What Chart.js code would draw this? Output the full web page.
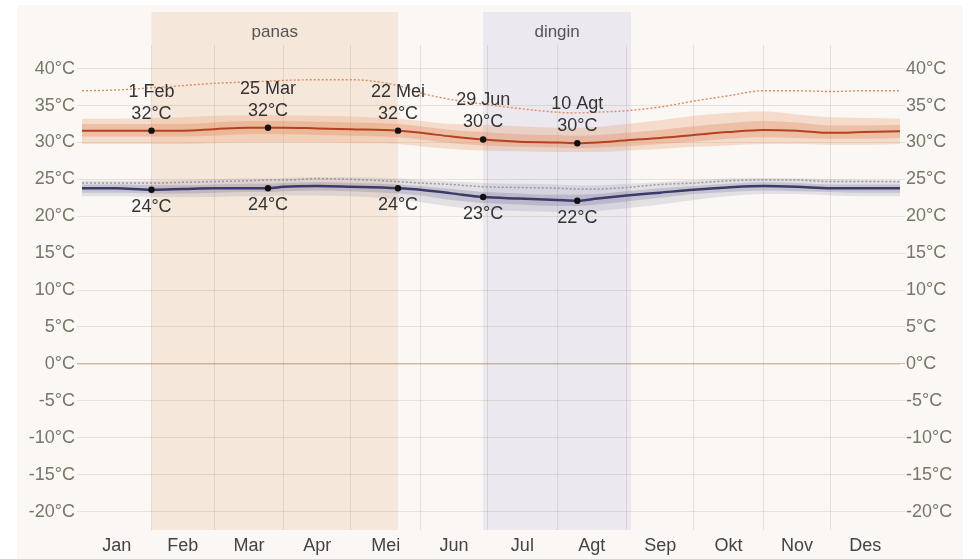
<!DOCTYPE html>
<html><head><meta charset="utf-8">
<script src="https://cdn.jsdelivr.net/npm/chart.js@4/dist/chart.umd.min.js"></script>
<style>html,body{margin:0;padding:0;background:#fff;}</style>
</head><body>
<canvas id="c" width="980" height="559"></canvas>
<script>
// ---- data (day of year, 0 = 1 Jan) ----
const days =        [0,   15,  31,  45,  59,  74,  83,  90,  105, 120, 141, 151, 165, 179, 195, 212, 221, 230, 243, 258, 273, 288, 304, 319, 334, 349, 365];
const highAvg =     [31.6,31.6,31.6,31.6,31.8,32.0,32.0,32.0,31.9,31.8,31.6,31.3,30.8,30.4,30.1,30.0,29.9,30.0,30.3,30.6,31.0,31.4,31.7,31.6,31.3,31.4,31.5];
const highP90 =     [33.2,33.2,33.3,33.4,33.6,33.7,33.7,33.7,33.6,33.5,33.2,32.9,32.5,32.4,32.2,32.0,32.0,32.1,32.5,33.0,33.6,34.0,34.2,33.8,33.4,33.3,33.2];
const highP75 =     [32.5,32.5,32.5,32.5,32.7,32.9,32.9,32.9,32.8,32.7,32.5,32.2,31.7,31.4,31.1,31.0,30.9,31.0,31.3,31.7,32.2,32.6,32.9,32.7,32.3,32.3,32.4];
const highP25 =     [30.8,30.8,30.8,30.8,30.9,31.1,31.1,31.1,31.0,30.9,30.7,30.4,29.9,29.6,29.4,29.3,29.2,29.3,29.5,29.8,30.1,30.5,30.7,30.6,30.5,30.5,30.6];
const highP10 =     [29.8,29.8,29.8,29.8,29.9,30.0,30.0,30.0,30.0,29.9,29.8,29.5,29.1,28.9,28.8,28.7,28.7,28.7,28.9,29.1,29.4,29.6,29.8,29.8,29.7,29.7,29.8];
const highMaxDot =  [37.0,37.1,37.4,37.7,38.0,38.2,38.3,38.4,38.5,38.5,37.7,36.7,35.8,35.2,34.6,34.1,34.0,34.1,34.3,34.8,35.6,36.3,37.0,37.0,36.9,37.0,37.0];
const lowAvg =      [23.8,23.8,23.6,23.7,23.8,23.8,23.8,24.0,24.1,24.0,23.8,23.6,23.1,22.6,22.4,22.2,22.1,22.4,22.8,23.2,23.6,23.9,24.1,24.0,23.8,23.8,23.8];
const lowP90 =      [24.8,24.8,24.8,24.9,25.0,25.1,25.1,25.2,25.3,25.3,25.1,24.9,24.7,24.5,24.4,24.3,24.2,24.2,24.4,24.6,24.9,25.1,25.2,25.1,25.0,24.9,24.8];
const lowP75 =      [24.3,24.3,24.2,24.2,24.3,24.4,24.4,24.5,24.6,24.5,24.3,24.1,23.7,23.3,23.1,22.9,22.9,23.0,23.4,23.8,24.1,24.4,24.6,24.5,24.3,24.3,24.3];
const lowP25 =      [23.2,23.2,23.1,23.1,23.2,23.3,23.3,23.4,23.5,23.4,23.1,22.8,22.2,21.8,21.6,21.4,21.4,21.6,22.0,22.5,23.0,23.3,23.5,23.4,23.3,23.2,23.2];
const lowP10 =      [22.7,22.7,22.6,22.6,22.6,22.7,22.7,22.8,22.8,22.7,22.3,21.9,21.3,20.9,20.7,20.6,20.6,20.7,21.1,21.6,22.2,22.7,23.0,23.0,22.8,22.7,22.7];
const lowTopDot =   [24.5,24.5,24.5,24.6,24.7,24.8,24.9,24.9,25.1,25.0,24.7,24.5,24.3,24.0,23.9,23.8,23.7,23.7,23.9,24.3,24.5,24.8,24.9,24.9,24.7,24.7,24.7];

const annDays =  [31, 83, 141, 179, 221];
const annDates = ['1 Feb', '25 Mar', '22 Mei', '29 Jun', '10 Agt'];

const monthNames  = ['Jan','Feb','Mar','Apr','Mei','Jun','Jul','Agt','Sep','Okt','Nov','Des'];
const monthStarts = [0,31,59,90,120,151,181,212,243,273,304,334,365];
const yTickValues = [-20,-15,-10,-5,0,5,10,15,20,25,30,35,40];

const seasonNames = ['panas', 'dingin'];
const seasonStart = [31, 179];
const seasonEnd   = [141, 245];

// ---- helpers ----
const pts = arr => days.map((d, i) => ({x: d, y: arr[i]}));
const atDay = (arr, d) => arr[days.indexOf(d)];
const FONT = '"Liberation Sans", Arial, sans-serif';

const seasonColors = ['#f6e7db', '#ebe8ef'];

const bgPlugin = {
  id: 'bg',
  beforeDraw(chart) {
    const {ctx, chartArea} = chart;
    const x = chart.scales.x;
    ctx.save();
    ctx.fillStyle = '#ffffff';
    ctx.fillRect(0, 0, chart.width, chart.height);
    ctx.fillStyle = '#faf7f4';
    ctx.fillRect(17, 5, 946, 554);
    seasonNames.forEach((name, i) => {
      const x0 = x.getPixelForValue(seasonStart[i]);
      const x1 = x.getPixelForValue(seasonEnd[i]);
      ctx.fillStyle = seasonColors[i];
      ctx.fillRect(x0, 12, x1 - x0, chartArea.bottom - 12);
      ctx.fillStyle = '#555';
      ctx.font = '17px ' + FONT;
      ctx.textAlign = 'center';
      ctx.textBaseline = 'middle';
      ctx.fillText(name, (x0 + x1) / 2, 32);
    });
    ctx.restore();
  }
};

const annPlugin = {
  id: 'ann',
  afterDatasetsDraw(chart) {
    const {ctx} = chart;
    const x = chart.scales.x, y = chart.scales.y;
    ctx.save();
    ctx.fillStyle = '#333';
    ctx.font = '18px ' + FONT;
    ctx.textAlign = 'center';
    ctx.textBaseline = 'middle';
    annDays.forEach((d, i) => {
      const px = x.getPixelForValue(d);
      const hv = atDay(highAvg, d);
      const hy = y.getPixelForValue(hv);
      ctx.fillText(Math.round(hv) + '°C', px, hy - 17);
      ctx.fillText(annDates[i], px, hy - 39);
      const lv = atDay(lowAvg, d);
      const ly = y.getPixelForValue(lv);
      ctx.fillText(Math.round(lv) + '°C', px, ly + 17);
    });
    ctx.restore();
  }
};

const band = (arr, color, fill) => ({
  data: pts(arr), borderWidth: 0, pointRadius: 0, borderColor: 'transparent',
  backgroundColor: color, fill: fill, tension: 0.4, cubicInterpolationMode: 'monotone'
});

const gridCol = 'rgba(140,115,80,0.17)';
const zeroCol = 'rgba(160,130,90,0.5)';

new Chart(document.getElementById('c'), {
  type: 'line',
  data: {
    datasets: [
      // dots
      {data: annDays.map(d => ({x: d, y: atDay(highAvg, d)})), showLine: false, pointRadius: 3.2,
        pointBackgroundColor: '#111', pointBorderWidth: 0, order: 0},
      {data: annDays.map(d => ({x: d, y: atDay(lowAvg, d)})), showLine: false, pointRadius: 3.2,
        pointBackgroundColor: '#111', pointBorderWidth: 0, order: 0},
      // lines
      {data: pts(highAvg), borderColor: '#b5411f', borderWidth: 2, pointRadius: 0, fill: false, tension: 0.4, cubicInterpolationMode: 'monotone', order: 1},
      {data: pts(lowAvg), borderColor: '#3b3b6b', borderWidth: 2.5, pointRadius: 0, fill: false, tension: 0.4, cubicInterpolationMode: 'monotone', order: 1},
      {data: pts(highMaxDot), borderColor: '#e28a5c', borderWidth: 1.4, borderDash: [2, 2], pointRadius: 0, fill: false, tension: 0.4, cubicInterpolationMode: 'monotone', order: 1},
      {data: pts(lowTopDot), borderColor: '#9a98a6', borderWidth: 1.5, borderDash: [2, 2], pointRadius: 0, fill: false, tension: 0.4, cubicInterpolationMode: 'monotone', order: 1},
      // high bands
      Object.assign(band(highP90, 'transparent', false), {order: 5}),
      Object.assign(band(highP10, 'rgba(232,155,105,0.30)', '-1'), {order: 5}),
      Object.assign(band(highP75, 'transparent', false), {order: 4}),
      Object.assign(band(highP25, 'rgba(225,135,90,0.32)', '-1'), {order: 4}),
      // low bands
      Object.assign(band(lowP90, 'transparent', false), {order: 5}),
      Object.assign(band(lowP10, 'rgba(110,110,145,0.17)', '-1'), {order: 5}),
      Object.assign(band(lowP75, 'transparent', false), {order: 4}),
      Object.assign(band(lowP25, 'rgba(85,85,130,0.22)', '-1'), {order: 4})
    ]
  },
  options: {
    responsive: false,
    animation: false,
    devicePixelRatio: 1,
    layout: {padding: {top: 45, left: 0, right: 0, bottom: 0}},
    plugins: {legend: {display: false}, tooltip: {enabled: false}},
    scales: {
      x: {
        type: 'linear', min: 0, max: 365, position: 'bottom',
        grid: {display: false}, border: {display: false},
        afterBuildTicks: s => { s.ticks = monthNames.map((m, i) => ({value: (monthStarts[i] + monthStarts[i + 1]) / 2})); },
        ticks: {
          autoSkip: false, maxRotation: 0, padding: -3, color: '#444',
          font: {size: 18, family: FONT},
          callback: (v, i) => monthNames[i]
        },
        afterFit: s => { s.height = 29; }
      },
      xg: {
        type: 'linear', min: 0, max: 365, position: 'bottom',
        grid: {color: gridCol, drawTicks: false, lineWidth: 1}, border: {display: false},
        afterBuildTicks: s => { s.ticks = monthStarts.slice(1, 12).map(v => ({value: v})); },
        ticks: {display: false},
        afterFit: s => { s.height = 0; }
      },
      y: {
        type: 'linear', min: -22.5, max: 43.2, position: 'left',
        afterBuildTicks: s => { s.ticks = yTickValues.map(v => ({value: v})); },
        grid: {
          color: c => c.tick && c.tick.value === 0 ? zeroCol : gridCol,
          lineWidth: c => c.tick && c.tick.value === 0 ? 1.5 : 1,
          drawTicks: true, tickLength: 5
        },
        border: {display: false},
        ticks: {padding: 2, color: '#7a7567', font: {size: 18, family: FONT}, callback: v => v + '°C'},
        afterFit: s => { s.width = 82; }
      },
      y2: {
        type: 'linear', min: -22.5, max: 43.2, position: 'right',
        afterBuildTicks: s => { s.ticks = yTickValues.map(v => ({value: v})); },
        grid: {
          drawOnChartArea: false, drawTicks: true, tickLength: 5,
          color: c => c.tick && c.tick.value === 0 ? zeroCol : gridCol
        },
        border: {display: false},
        ticks: {padding: 1, color: '#7a7567', font: {size: 18, family: FONT}, callback: v => v + '°C'},
        afterFit: s => { s.width = 80; }
      }
    }
  },
  plugins: [bgPlugin, annPlugin]
});
</script>
</body></html>
